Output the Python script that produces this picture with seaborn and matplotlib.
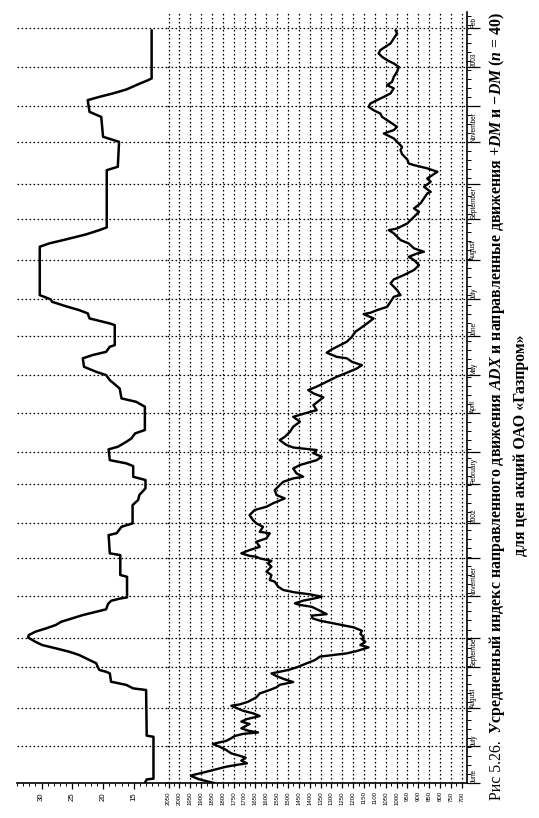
import matplotlib
matplotlib.use("Agg")
import matplotlib.pyplot as plt
import seaborn as sns
from matplotlib.ticker import MultipleLocator, FixedLocator

# ---------------- data (time = trading-day index from 1 June 2001) ----------------
price_t = [0, 2.0, 3.9, 4.4, 5.7, 7.6, 9.0, 10.0, 10.9, 12.4, 14.0, 15.1, 16.4, 18.3, 20.1,
           21.6, 22.4, 23.3, 24.8, 26.0, 27.2, 28.0, 29.0, 30.3, 32.7, 34.0, 35.4, 37.1, 38.6,
           40.0, 42.8, 43.5, 45.0, 47.4, 49.6, 51.5, 53.0, 54.4, 55.9, 57.4, 59.2, 60.7, 61.6,
           62.6, 64.0, 66.6, 68.1, 70.0, 70.9, 71.8, 73.1, 75.1, 76.4, 78.2, 79.7, 81.0, 82.5,
           84.3, 86.2, 87.5, 88.8, 89.9, 91.2, 92.7, 93.5, 95.4, 97.6, 98.6, 99.5, 101.0, 102.1,
           103.2, 104.5, 105.6, 106.9, 108.7, 111.5, 112.4, 115.2, 117.0, 119.8, 121.6, 123.0,
           124.4, 125.3, 125.8, 127.2, 129.0, 130.8, 133.6, 135.5, 138.3, 139.1, 141.9, 143.8,
           145.6, 148.4, 151.2, 153.0, 154.9, 157.6, 159.5, 162.2, 165.0, 166.8, 168.7, 169.6,
           171.5, 174.2, 176.1, 178.8, 180.7, 182.6, 184.4, 185.8, 187.2, 189.9, 191.7, 194.5,
           197.3, 200.1, 202.8, 205.0, 206.5, 209.3, 212.1, 213.6, 215.8, 217.6, 219.5, 222.2,
           225.0, 227.2, 229.6, 231.4, 233.3, 235.2, 236.0, 238.3, 240.1, 242.5, 244.4, 247.1,
           249.9, 251.8, 254.5, 257.3, 259.7, 260.4, 261.9, 263.7, 266.5, 269.3, 270.2, 273.0,
           276.7, 278.9, 281.3, 284.1, 286.8, 289.6, 291.4, 293.3, 294.2, 296.1, 298.8, 300.7,
           304.4, 306.2, 307.1, 309.9, 313.6, 316.3, 318.2, 321.0, 326.5, 327.4, 330.2, 333.0,
           334.8, 338.5, 340.4, 342.2, 343.1, 345.3, 348.3, 350.5, 352.3, 355.1, 357.0, 359.7,
           361.6, 363.4, 365.3, 367.1, 368.9, 370.8, 372.6, 374.5, 376.3, 378.2, 380.0, 381.9,
           384.7, 386.5, 388.3, 391.1, 393.9, 396.6, 398.5, 400.3, 402.2, 404.0, 405.9, 407.7,
           409.6, 412.3, 415.1, 416.9]
price_v = [1840, 1908, 1947, 1939, 1893, 1831, 1785, 1738, 1689, 1715, 1695, 1723, 1761, 1785, 1815,
           1846, 1819, 1785, 1761, 1746, 1707, 1638, 1684, 1715, 1677, 1715, 1689, 1630, 1661,
           1707, 1761, 1723, 1684, 1646, 1630, 1584, 1553, 1538, 1476, 1515, 1553, 1576, 1538,
           1499, 1461, 1407, 1376, 1353, 1291, 1229, 1183, 1129, 1167, 1144, 1160, 1152, 1167,
           1160, 1198, 1252, 1306, 1353, 1387, 1391, 1322, 1353, 1391, 1445, 1468, 1430, 1383,
           1345, 1400, 1470, 1522, 1545, 1561, 1584, 1576, 1599, 1576, 1592, 1576,
           1630, 1646, 1677, 1715, 1677, 1630, 1646, 1599, 1584, 1630, 1615, 1646,
           1661, 1677, 1653, 1599, 1569, 1515, 1553, 1561, 1538, 1522, 1476, 1430,
           1461, 1476, 1445, 1368, 1345, 1383, 1368, 1476, 1507, 1538, 1515, 1491,
           1476, 1445, 1476, 1414, 1368, 1383, 1353, 1337, 1383, 1407, 1368, 1322,
           1275, 1229, 1183, 1160, 1206, 1229, 1275, 1322, 1299, 1260, 1229, 1206,
           1190, 1167, 1136, 1106, 1152, 1121, 1090, 1044, 1028, 1013, 982, 998,
           1028, 1013, 967, 920, 897, 920, 944, 905, 874, 920, 944, 982,
           1013, 1036, 998, 951, 920, 897, 920, 890, 859, 843, 874, 843,
           859, 812, 859, 920, 944, 951, 975, 982, 975, 998, 1013, 1059,
           1013, 998, 1021, 1044, 1067, 1075, 1106, 1129, 1121, 1090, 1059, 1028,
           1013, 1044, 1021, 1013, 998, 990, 1013, 1044, 1067, 1083, 1075, 1052,
           1028, 1013, 998, 1005]

adx_t = [0, 2.0, 2.4, 25.6, 26.2, 51.5, 52.4, 54.3, 56.1, 60.7, 61.6, 62.6, 64.4, 66.3, 68.1,
         70.9, 72.7, 74.6, 76.4, 78.2, 80.6, 81.9, 83.8, 85.6, 87.5, 89.3, 93.0, 96.2, 99.1,
         100.9, 102.1, 102.8, 114.2, 115.2, 126.2, 127.2, 137.3, 138.3, 141.9, 143.8, 153.9,
         156.7, 159.5, 163.2, 167.8, 169.6, 175.5, 177.0, 178.8, 184.8, 186.2, 189.0, 190.8,
         193.6, 195.5, 208.4, 211.1, 213.0, 218.5, 223.1, 225.9, 227.7, 230.5, 235.2, 237.0,
         238.8, 241.6, 242.5, 253.6, 254.5, 257.3, 260.1, 261.9, 264.1, 266.5, 267.8, 269.3,
         270.2, 297.0, 298.8, 301.0, 303.8, 306.2, 307.7, 339.4, 341.3, 355.1, 357.9, 368.9,
         371.7, 378.2, 380.0, 381.9, 384.1, 387.4, 388.9, 390.2, 416.9]
adx_v = [13.2, 12.9, 11.8, 11.8, 12.9, 13.0, 15.1, 16.2, 18.7, 18.9, 19.5, 20.6, 20.9, 21.1, 22.2,
         23.9, 25.5, 27.7, 29.9, 31.0, 32.2, 32.1, 31.0, 29.3, 27.7, 26.8, 23.3, 19.5, 19.2,
         18.7, 17.3, 16.1, 16.1, 17.2, 17.2, 18.9, 19.1, 17.8, 17.0, 15.2, 15.2,
         14.3, 14.1, 13.1, 13.1, 15.1, 15.1, 16.2, 18.9, 19.1, 17.6, 16.2, 15.4,
         14.8, 13.2, 13.2, 14.6, 17.0, 17.3, 18.9, 19.5, 21.1, 23.1, 23.3, 21.7,
         19.5, 18.9, 18.1, 18.1, 18.9, 22.2, 22.5, 23.9, 26.1, 28.3, 28.5, 29.6,
         30.3, 30.3, 28.8, 26.1, 22.8, 20.6, 19.4, 19.4, 17.6, 17.4, 20.0, 20.3,
         22.2, 22.5, 20.6, 18.4, 16.2, 14.0, 12.9, 12.1, 12.1]

month_pos = [0, 20.5, 41.5, 64, 80.5, 103.5, 124.5, 144, 165.5, 183.5, 205, 226, 247.5, 268,
             289.5, 312.5, 332, 355, 375, 396.5, 418]
month_labels = ["June", "July", "August", "September", "", "November", "", "2002", "February",
                "", "April", "May", "June", "July", "August", "September", "", "November", "",
                "2003", "Feb"]
price_ticks = [2050, 2000, 1950, 1900, 1850, 1800, 1750, 1700, 1650, 1600, 1550, 1500, 1450,
               1400, 1350, 1300, 1250, 1200, 1150, 1100, 1050, 1000, 950, 900, 850, 800, 750, 700]
adx_ticks = [30, 25, 20, 15]

caption_1a = "Рис 5.26."
caption_1b = ("Усредненный индекс направленного движения $ADX$ и направленные "
              "движения +$DM$ и −$DM$ ($n$ = 40)")
caption_2 = "для цен акций ОАО «Газпром»"

# ---------------- style ----------------
sns.set_theme(style="white")
plt.rcParams["font.family"] = ["Liberation Sans", "DejaVu Sans"]
plt.rcParams["mathtext.fontset"] = "custom"
plt.rcParams["mathtext.it"] = "Liberation Serif:italic:bold"
plt.rcParams["mathtext.rm"] = "Liberation Serif:bold"
plt.rcParams["mathtext.bf"] = "Liberation Serif:bold"

W, H = 539, 818
fig = plt.figure(figsize=(W / 100, H / 100), dpi=100)
fig.patch.set_facecolor("white")


def fx(px):
    return px / W


def fy(py):
    return 1 - py / H


bottom, top = fy(783), fy(12)
ax_adx = fig.add_axes([fx(17), bottom, fx(167) - fx(17), top - bottom])
ax_p = fig.add_axes([fx(167), bottom, fx(467) - fx(167), top - bottom])

dot = (0, (1.3, 1.9))
for ax in (ax_adx, ax_p):
    ax.set_facecolor("white")
    for s in ax.spines.values():
        s.set_visible(False)
    ax.spines["bottom"].set_visible(True)
    ax.spines["bottom"].set_color("black")
    ax.spines["bottom"].set_linewidth(1.2)
    ax.set_ylim(0, 427)
    ax.yaxis.set_major_locator(FixedLocator(month_pos))
    ax.grid(False)
    ax.grid(axis="y", which="major", color="black", linestyle=dot, linewidth=0.9)

# ADX panel
sns.lineplot(x=adx_v, y=adx_t, orient="y", estimator=None, sort=False, ax=ax_adx,
             color="black", linewidth=1.8)
ax_adx.set_xlim(34, 9.6)
ax_adx.set_xticks(adx_ticks)
ax_adx.set_xticklabels([str(v) for v in adx_ticks], rotation=90)
ax_adx.xaxis.set_minor_locator(MultipleLocator(1))
ax_adx.tick_params(axis="x", which="major", bottom=True, direction="out", length=4,
                   width=0.9, color="black", labelsize=5.6, pad=3, labelcolor="black")
ax_adx.tick_params(axis="x", which="minor", bottom=True, direction="out", length=2.5,
                   width=0.7, color="black")
ax_adx.tick_params(axis="y", which="both", left=False, right=False, labelleft=False,
                   labelright=False)
ax_adx.set_xlabel("")
ax_adx.set_ylabel("")

# price panel
sns.lineplot(x=price_v, y=price_t, orient="y", estimator=None, sort=False, ax=ax_p,
             color="black", linewidth=1.7)
ax_p.set_xlim(2057, 676)
ax_p.set_xticks(price_ticks)
ax_p.set_xticklabels([str(v) for v in price_ticks], rotation=90)
ax_p.xaxis.set_minor_locator(MultipleLocator(25))
ax_p.grid(axis="x", which="major", color="black", linestyle=dot, linewidth=0.9)
ax_p.tick_params(axis="x", which="major", bottom=True, direction="out", length=3.5,
                 width=0.9, color="black", labelsize=4.4, pad=2.5, labelcolor="black")
ax_p.tick_params(axis="x", which="minor", bottom=True, direction="out", length=2,
                 width=0.7, color="black")
ax_p.spines["right"].set_visible(True)
ax_p.spines["right"].set_color("black")
ax_p.spines["right"].set_linewidth(1.2)
ax_p.yaxis.tick_right()
ax_p.yaxis.set_minor_locator(MultipleLocator(5))
ax_p.set_yticklabels(month_labels, rotation=90, va="bottom")
ax_p.tick_params(axis="y", which="major", right=True, left=False, direction="out", length=9,
                 width=0.9, color="black", labelsize=4.7, pad=-6.5, labelright=True,
                 labelleft=False, labelcolor="black")
ax_p.tick_params(axis="y", which="minor", right=True, left=False, direction="out", length=3,
                 width=0.7, color="black")
ax_p.set_xlabel("")
ax_p.set_ylabel("")

# ---------------- caption (rotated) ----------------
renderer = fig.canvas.get_renderer()
y_start, y_end, gap = 800, 15, 6
size = 10.5
t1 = fig.text(fx(497), fy(y_start), caption_1a, rotation=90, rotation_mode="anchor",
              ha="left", va="center", family=["Liberation Serif", "DejaVu Serif"],
              fontsize=size, color="black")
t2 = fig.text(fx(497), fy(y_start), caption_1b, rotation=90, rotation_mode="anchor",
              ha="left", va="center", family=["Liberation Serif", "DejaVu Serif"],
              fontweight="bold", fontsize=size, color="black")
for _ in range(3):
    t1.set_fontsize(size)
    t2.set_fontsize(size)
    l1 = t1.get_window_extent(renderer).height
    l2 = t2.get_window_extent(renderer).height
    total = l1 + gap + l2
    size *= (y_start - y_end) / total
t1.set_fontsize(size)
t2.set_fontsize(size)
l1 = t1.get_window_extent(renderer).height
t2.set_position((fx(497), fy(y_start - l1 - gap)))

fig.text(fx(521), fy(445), caption_2, rotation=90, ha="center", va="center",
         family=["Liberation Serif", "DejaVu Serif"], fontweight="bold", fontsize=size,
         color="black")

fig.savefig("out.png", dpi=100, facecolor="white")
